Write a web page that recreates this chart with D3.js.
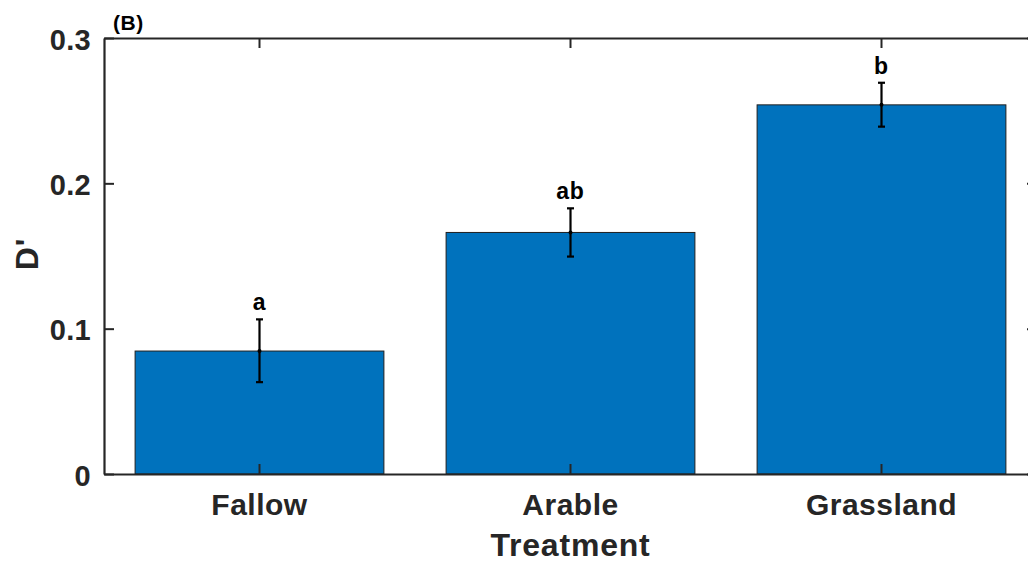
<!DOCTYPE html>
<html>
<head>
<meta charset="utf-8">
<script src="https://cdn.jsdelivr.net/npm/d3@7"></script>
<style>
  html, body { margin: 0; padding: 0; background: #fff; }
  svg { display: block; }
  text { font-family: "Liberation Sans", Arial, sans-serif; font-weight: bold; }
</style>
</head>
<body>
<svg id="chart" width="1028" height="565"></svg>
<script>
const categories = ["Fallow", "Arable", "Grassland"];
const means = [0.0846, 0.1662, 0.2540];
const errLow = [0.0632, 0.1496, 0.2390];
const errHigh = [0.1064, 0.1828, 0.2692];
const groupLetters = ["a", "ab", "b"];
const yTicks = [0, 0.1, 0.2, 0.3];
const yTickLabels = ["0", "0.1", "0.2", "0.3"];

const svg = d3.select("#chart");
const mLeft = 104, mRight = 1037, mTop = 38, mBottom = 474;
const axisColor = "#262626";

const x = d3.scaleBand().domain(categories).range([mLeft, mRight])
  .paddingInner(0.2).paddingOuter(0.1);
const y = d3.scaleLinear().domain([0, 0.3]).range([mBottom, mTop]);

// bars
svg.append("g").selectAll("rect").data(categories).join("rect")
  .attr("x", d => x(d))
  .attr("y", (d, i) => y(means[i]))
  .attr("width", x.bandwidth())
  .attr("height", (d, i) => y(0) - y(means[i]))
  .attr("fill", "#0072BD")
  .attr("stroke", "#1f1f1f")
  .attr("stroke-width", 1);

// axes
function styleAxis(g, fs, ls) {
  g.selectAll(".domain").attr("stroke", axisColor).attr("stroke-width", 2.2);
  g.selectAll(".tick line").attr("stroke", axisColor).attr("stroke-width", 2);
  g.selectAll(".tick text").attr("fill", axisColor)
    .style("font-size", fs + "px").style("letter-spacing", ls + "px");
}
const xb = svg.append("g").attr("transform", `translate(0,${mBottom})`)
  .call(d3.axisBottom(x).tickSizeInner(-10).tickSizeOuter(0).tickPadding(19.5));
styleAxis(xb, 30, 0.5);
xb.selectAll(".tick text").attr("dy", "0.71em");

const xt = svg.append("g").attr("transform", `translate(0,${mTop})`)
  .call(d3.axisTop(x).tickSizeInner(-10).tickSizeOuter(0).tickFormat(""));
styleAxis(xt, 30, 0.5);

const yl = svg.append("g").attr("transform", `translate(${mLeft},0)`)
  .call(d3.axisLeft(y).tickValues(yTicks).tickFormat((d, i) => yTickLabels[i])
    .tickSizeInner(-10).tickSizeOuter(0).tickPadding(13));
styleAxis(yl, 29, 0.3);
yl.selectAll(".tick text").attr("dy", "0.38em");

const yr = svg.append("g").attr("transform", `translate(${mRight},0)`)
  .call(d3.axisRight(y).tickValues(yTicks).tickFormat("")
    .tickSizeInner(-10).tickSizeOuter(0));
styleAxis(yr, 29, 0.3);

// error bars
const eb = svg.append("g");
const cx = d => x(d) + x.bandwidth() / 2;
const capW = 3.5;
categories.forEach((c, i) => {
  const g = eb.append("g").attr("stroke", "#000").attr("stroke-width", 2.2);
  g.append("line").attr("x1", cx(c)).attr("x2", cx(c)).attr("y1", y(errLow[i])).attr("y2", y(errHigh[i]));
  g.append("line").attr("x1", cx(c) - capW).attr("x2", cx(c) + capW).attr("y1", y(errLow[i])).attr("y2", y(errLow[i]));
  g.append("line").attr("x1", cx(c) - capW).attr("x2", cx(c) + capW).attr("y1", y(errHigh[i])).attr("y2", y(errHigh[i]));
  eb.append("circle").attr("cx", cx(c)).attr("cy", y(means[i])).attr("r", 2).attr("fill", "#000");
  // group letters
  svg.append("text").attr("x", cx(c)).attr("y", y(errHigh[i]) - 9)
    .attr("text-anchor", "middle").attr("fill", "#000")
    .style("font-size", "23px").style("letter-spacing", "0.8px")
    .text(groupLetters[i]);
});

// axis labels
svg.append("text").attr("x", (mLeft + mRight) / 2).attr("y", 556)
  .attr("text-anchor", "middle").attr("fill", axisColor)
  .style("font-size", "32px").style("letter-spacing", "0.8px")
  .text("Treatment");
svg.append("text").attr("transform", `translate(38,${(mTop + mBottom) / 2 - 2}) rotate(-90)`)
  .attr("text-anchor", "middle").attr("fill", axisColor)
  .style("font-size", "32px").style("letter-spacing", "0.8px")
  .text("D'");

// panel label
svg.append("text").attr("x", 113).attr("y", 30).attr("fill", "#000")
  .style("font-size", "21px").style("letter-spacing", "0.5px")
  .text("(B)");
</script>
</body>
</html>
